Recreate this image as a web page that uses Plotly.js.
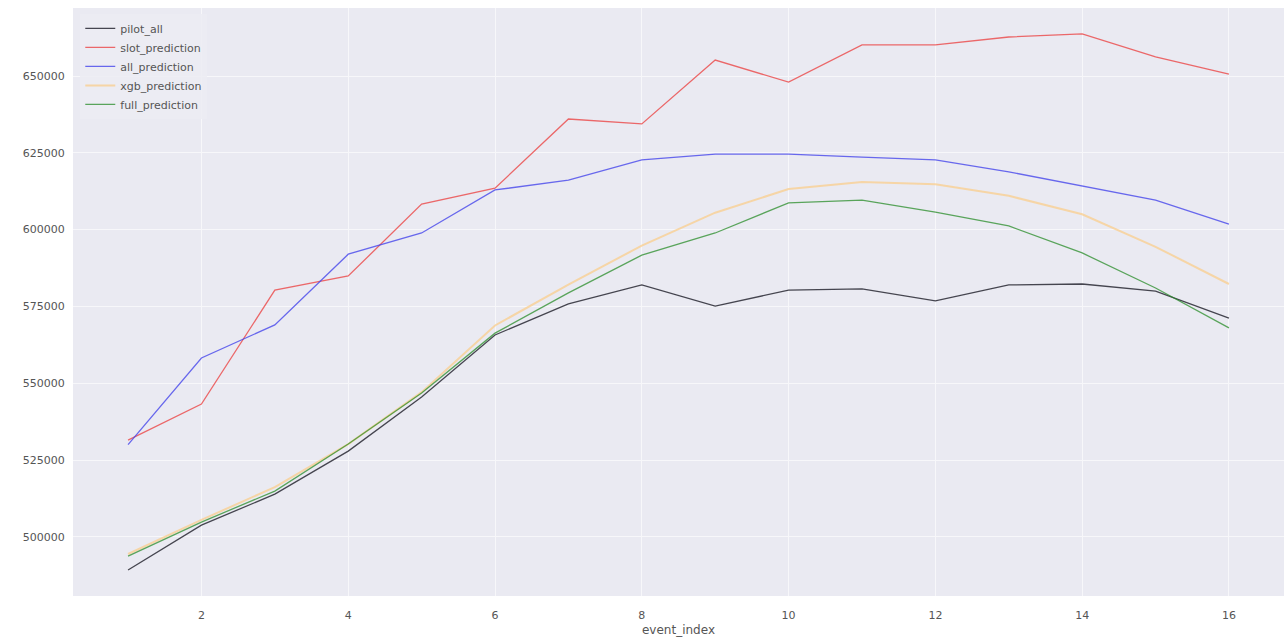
<!DOCTYPE html>
<html>
<head>
<meta charset="utf-8">
<script src="https://cdn.plot.ly/plotly-3.0.1.min.js"></script>
<style>html,body{margin:0;padding:0;background:#fff;}#chart{width:1284px;height:637px;}</style>
</head>
<body>
<div id="chart"></div>
<script>
const eventIndex = [1,2,3,4,5,6,7,8,9,10,11,12,13,14,15,16];
const pilotAll = [489200,503800,513900,527900,545500,565700,575800,582000,575100,580300,580700,576800,582000,582300,580000,571200];
const slotPrediction = [531500,543200,580300,584900,608300,613500,636000,634400,655200,648000,660100,660100,662700,663700,656200,650600];
const allPrediction = [530000,558200,569000,592000,598900,612900,616100,622700,624600,624600,623600,622700,618800,614200,609600,601800];
const xgbPrediction = [494400,505500,516200,530200,547100,568800,582100,594800,605500,613200,615500,614800,611000,605000,594400,582300];
const fullPrediction = [493700,504800,514900,530200,546800,566300,579400,591700,598900,608700,609600,605700,601200,592400,581000,568000];
const seriesNames = ["pilot_all","slot_prediction","all_prediction","xgb_prediction","full_prediction"];
const seriesValues = [pilotAll, slotPrediction, allPrediction, xgbPrediction, fullPrediction];
const seriesColors = ["rgba(40,40,50,0.85)","rgba(235,70,70,0.8)","rgba(70,70,235,0.8)","rgba(250,205,140,0.75)","rgba(40,140,40,0.75)"];

const traces = seriesNames.map((n,i)=>({
  x: eventIndex, y: seriesValues[i], name: n, type: 'scatter', mode: 'lines',
  line: {color: seriesColors[i], width: i===3 ? 2 : 1.3}
}));

const layout = {
  width: 1284, height: 637,
  margin: {l: 73, r: 0, t: 8, b: 41},
  paper_bgcolor: '#ffffff', plot_bgcolor: '#eaeaf2',
  font: {family: 'DejaVu Sans, sans-serif', size: 11, color: '#555'},
  showlegend: true,
  legend: {x: 0.006, y: 0.99, xanchor: 'left', yanchor: 'top', bgcolor: 'rgba(236,236,243,0.9)', borderwidth: 0, font: {size: 11, color: '#555'}, tracegroupgap: 0},
  xaxis: {range: [0.25, 16.75], tickvals: [2,4,6,8,10,12,14,16], showgrid: true, gridcolor: '#f7f7fa', gridwidth: 1, zeroline: false, showline: false, ticks: 'outside', ticklen: 9, tickcolor: 'rgba(0,0,0,0)', title: {text: 'event_index', font: {size: 12, color: '#555'}, standoff: 4}},
  yaxis: {range: [480740, 672134], tickvals: [500000,525000,550000,575000,600000,625000,650000], ticktext: ['500000','525000','550000','575000','600000','625000','650000'], showgrid: true, gridcolor: '#f7f7fa', gridwidth: 1, zeroline: false, showline: false, ticks: 'outside', ticklen: 5, tickcolor: 'rgba(0,0,0,0)'}
};
Plotly.newPlot('chart', traces, layout, {displayModeBar: false, staticPlot: true});
</script>
</body>
</html>
